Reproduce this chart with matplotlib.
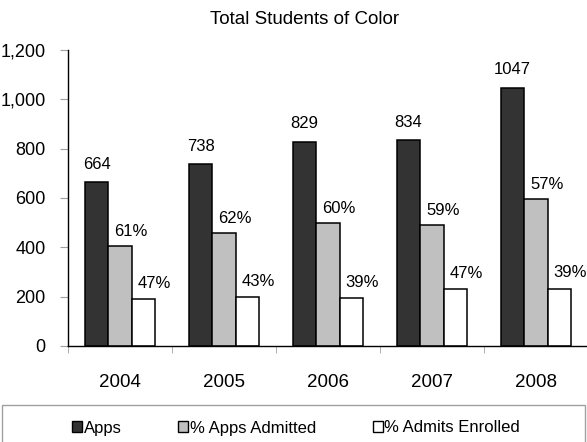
import matplotlib

matplotlib.use("Agg")
import matplotlib.pyplot as plt
from matplotlib.patches import Patch, Rectangle

plt.rcParams["font.family"] = ["Liberation Sans", "DejaVu Sans"]

years = ["2004", "2005", "2006", "2007", "2008"]
apps = [664, 738, 829, 834, 1047]
admitted = [405, 458, 497, 492, 597]
enrolled = [190, 197, 194, 231, 233]
pct_admitted = ["61%", "62%", "60%", "59%", "57%"]
pct_enrolled = ["47%", "43%", "39%", "47%", "39%"]
yticks = [0, 200, 400, 600, 800, 1000, 1200]

fig = plt.figure(figsize=(5.87, 4.42), dpi=100)
ax = fig.add_axes([68 / 587, 1 - 346 / 442, 520 / 587, 296 / 442])

x = list(range(len(years)))
w = 0.225
edge = dict(edgecolor="black", linewidth=1.1)
ax.bar([i - w for i in x], apps, w, color="#333333", label="Apps", **edge)
ax.bar(x, admitted, w, color="#c0c0c0", label="% Apps Admitted", **edge)
ax.bar([i + w for i in x], enrolled, w, color="white", label="% Admits Enrolled", **edge)

for i in x:
    ax.annotate(str(apps[i]), (i - w, apps[i]), xytext=(0, 7.5), textcoords="offset points",
                ha="center", va="bottom", fontsize=12, annotation_clip=False)
    ax.annotate(pct_admitted[i], (i, admitted[i]), xytext=(8, 5), textcoords="offset points",
                ha="center", va="bottom", fontsize=12, annotation_clip=False)
    ax.annotate(pct_enrolled[i], (i + w, enrolled[i]), xytext=(8, 6), textcoords="offset points",
                ha="center", va="bottom", fontsize=12, annotation_clip=False)

ax.set_xlim(-0.5, len(years) - 0.5)
ax.set_ylim(0, 1200)
ax.set_yticks(yticks)
ax.set_yticklabels([f"{v:,}" for v in yticks], fontsize=13)
ax.set_xticks(x)
ax.set_xticklabels(years, fontsize=13.5)
ax.set_xticks([i - 0.5 for i in range(len(years) + 1)], minor=True)
ax.tick_params(axis="x", which="major", length=0, pad=20)
ax.tick_params(axis="x", which="minor", length=5, color="#a0a0a0")
ax.tick_params(axis="y", length=6, color="#a0a0a0", pad=10)
for s in ["top", "right"]:
    ax.spines[s].set_visible(False)
ax.spines["left"].set_linewidth(1.0)
ax.spines["bottom"].set_linewidth(1.0)

fig.text(305 / 587, 1 - 24 / 442, "Total Students of Color", ha="center", va="baseline",
         fontsize=13.5)

handles = [
    Patch(facecolor="#333333", edgecolor="black", linewidth=1.0),
    Patch(facecolor="#c0c0c0", edgecolor="black", linewidth=1.0),
    Patch(facecolor="white", edgecolor="black", linewidth=1.0),
]
fig.legend(handles, ["Apps", "% Apps Admitted", "% Admits Enrolled"], loc="center",
           bbox_to_anchor=(296 / 587, 1 - 428 / 442), ncol=3, frameon=False, fontsize=12,
           handlelength=0.6, handleheight=0.6, handletextpad=0.1, columnspacing=3.4)
fig.patches.append(Rectangle((2 / 587, -0.05), 583 / 587, (442 - 405) / 442 + 0.05,
                             transform=fig.transFigure, facecolor="none",
                             edgecolor="#a0a0a0", linewidth=1.0))

fig.savefig("out.png", dpi=100)
